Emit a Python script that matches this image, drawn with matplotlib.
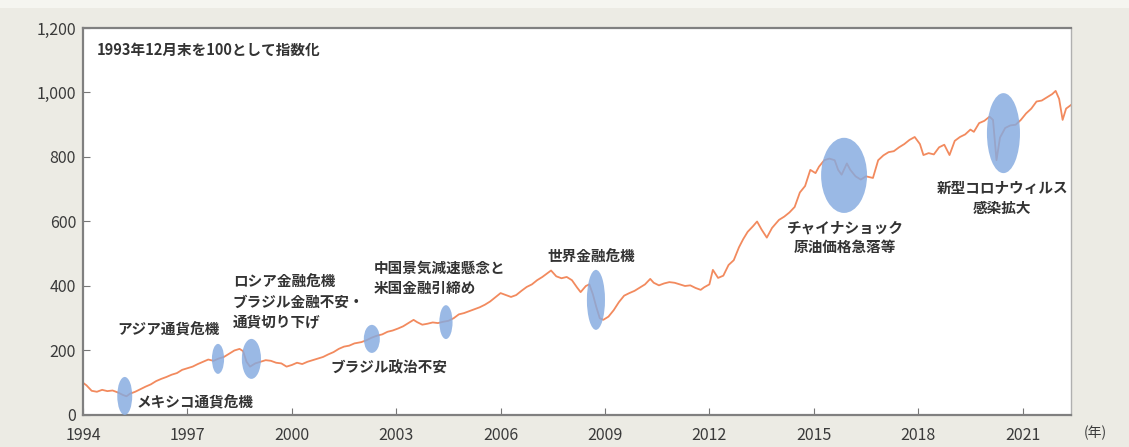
import matplotlib
matplotlib.use("Agg")
import matplotlib.pyplot as plt
from matplotlib.patches import Ellipse, Rectangle

plt.rcParams['font.family'] = ['Noto Sans CJK JP', 'DejaVu Sans']

# index, end of Dec 1993 = 100
dates = [1994.0, 1994.1, 1994.25, 1994.4, 1994.55, 1994.7, 1994.85, 1995.0, 1995.15, 1995.25,
         1995.35, 1995.5, 1995.65, 1995.8, 1995.95, 1996.1, 1996.25, 1996.4, 1996.55, 1996.7,
         1996.85, 1997.0, 1997.15, 1997.3, 1997.45, 1997.6, 1997.75, 1997.9, 1998.05, 1998.2,
         1998.35, 1998.5, 1998.6, 1998.7, 1998.8, 1998.95, 1999.1, 1999.25, 1999.4, 1999.55,
         1999.7, 1999.85, 2000.0, 2000.15, 2000.3, 2000.45, 2000.6, 2000.75, 2000.9, 2001.05,
         2001.2, 2001.35, 2001.5, 2001.65, 2001.8, 2002.0, 2002.15, 2002.3, 2002.45, 2002.6,
         2002.75, 2002.9, 2003.05, 2003.2, 2003.35, 2003.5, 2003.6, 2003.75, 2003.9, 2004.05,
         2004.2, 2004.35, 2004.5, 2004.65, 2004.8, 2004.95, 2005.1, 2005.25, 2005.4, 2005.55,
         2005.7, 2005.85, 2006.0, 2006.15, 2006.3, 2006.45, 2006.6, 2006.75, 2006.9, 2007.05,
         2007.2, 2007.35, 2007.45, 2007.6, 2007.75, 2007.9, 2008.05, 2008.2, 2008.3, 2008.45,
         2008.55, 2008.65, 2008.75, 2008.85, 2008.95, 2009.1, 2009.25, 2009.4, 2009.55, 2009.7,
         2009.85, 2010.0, 2010.15, 2010.3, 2010.4, 2010.55, 2010.7, 2010.85, 2011.0, 2011.15,
         2011.3, 2011.45, 2011.6, 2011.75, 2011.85, 2012.0, 2012.1, 2012.25, 2012.4, 2012.55,
         2012.7, 2012.85, 2012.97, 2013.1, 2013.25, 2013.37, 2013.5, 2013.65, 2013.8, 2014.0,
         2014.15, 2014.3, 2014.45, 2014.6, 2014.75, 2014.9, 2015.05, 2015.15, 2015.3, 2015.45,
         2015.6, 2015.7, 2015.8, 2015.95, 2016.05, 2016.2, 2016.35, 2016.5, 2016.7, 2016.85,
         2017.0, 2017.15, 2017.3, 2017.45, 2017.6, 2017.75, 2017.9, 2018.05, 2018.15, 2018.3,
         2018.45, 2018.6, 2018.75, 2018.9, 2019.05, 2019.2, 2019.35, 2019.5, 2019.6, 2019.75,
         2019.9, 2020.05, 2020.15, 2020.25, 2020.35, 2020.5, 2020.65, 2020.8, 2020.95, 2021.1,
         2021.25, 2021.4, 2021.55, 2021.7, 2021.85, 2021.95, 2022.05, 2022.15, 2022.25, 2022.4]
index = [100, 92, 75, 72, 78, 74, 76, 70, 62, 58,
         66, 72, 80, 88, 95, 105, 112, 118, 125, 130,
         140, 145, 150, 158, 165, 172, 168, 175, 180, 190,
         200, 205, 198, 165, 150, 160, 165, 170, 168, 162,
         160, 150, 155, 162, 158, 165, 170, 175, 180, 188,
         195, 205, 212, 215, 222, 226, 232, 240, 246, 250,
         258, 262, 268, 275, 285, 295, 288, 280, 283, 287,
         285, 289, 292, 300, 312, 316, 322, 328, 334, 342,
         352, 365, 378, 372, 366, 372, 385, 397, 405, 418,
         428, 440, 448, 430, 424, 428, 418, 395, 381, 400,
         405, 375, 335, 300, 295, 305, 325, 350, 370, 378,
         385, 395, 405, 422, 410, 402, 408, 412, 410, 405,
         400, 402, 394, 388, 396, 405, 450, 425, 432, 465,
         480, 520, 545, 568, 585, 600, 575, 550, 580, 605,
         615, 628, 645, 690, 710, 760, 750, 770, 790, 795,
         790, 760, 745, 780, 760, 740, 730, 740, 735, 790,
         805, 815, 818, 830, 840, 853, 862, 840, 806, 812,
         808, 830, 838, 806, 850, 862, 870, 885, 878, 905,
         912, 925, 915, 790, 860, 890, 898, 900, 915, 935,
         950, 972, 975, 985, 995, 1005, 980, 915, 950, 962]

# events: centre (year, value), size (years, value)
event_x = [1995.2, 1997.88, 1998.84, 2002.3, 2004.43, 2008.74, 2015.87, 2020.45]
event_y = [59, 174, 174, 236, 288, 357, 743, 874]
event_w = [0.43, 0.35, 0.55, 0.46, 0.38, 0.52, 1.32, 0.95]
event_h = [118, 93, 124, 87, 105, 186, 233, 248]

labels = [
    ("メキシコ通貨危機", 1995.55, 40, "left"),
    ("アジア通貨危機", 1994.98, 264, "left"),
    ("ロシア金融危機\nブラジル金融不安・\n通貨切り下げ", 1998.31, 350, "left"),
    ("ブラジル政治不安", 2001.10, 149, "left"),
    ("中国景気減速懸念と\n米国金融引締め", 2002.36, 425, "left"),
    ("世界金融危機", 2007.36, 490, "left"),
    ("チャイナショック\n原油価格急落等", 2015.90, 552, "center"),
    ("新型コロナウィルス\n感染拡大", 2020.41, 673, "center"),
]

bg = "#ecebe4"
fig = plt.figure(figsize=(11.29, 4.47), dpi=100, facecolor=bg)
# lighter strip along the very top
fig.add_artist(Rectangle((0, 1 - 8 / 447), 1, 8 / 447, transform=fig.transFigure,
                         facecolor="#f5f5f0", edgecolor="none"))
ax = fig.add_axes([0.0735, 0.0716, 0.8751, 0.8658])
ax.set_facecolor("white")

ax.plot(dates, index, color="#f28a5e", lw=1.3, zorder=2)

for x, y, w, h in zip(event_x, event_y, event_w, event_h):
    ax.add_patch(Ellipse((x, y), w, h, facecolor="#84aae0", edgecolor="none", alpha=0.82, zorder=3))

for txt, x, y, ha in labels:
    ax.text(x, y, txt, ha=ha, va="center", multialignment=ha, fontsize=10.5,
            color="#333333", linespacing=1.3, fontweight="bold", zorder=4)

ax.text(1994.4, 1132, "1993年12月末を100として指数化", ha="left", va="center",
        fontsize=10.5, color="#333333", fontweight="bold")

ax.set_xlim(1994, 2022.39)
ax.set_ylim(0, 1200)
ax.set_xticks(range(1994, 2022, 3))
ax.set_yticks(range(0, 1201, 200))
ax.set_yticklabels([f"{v:,}" for v in range(0, 1201, 200)])
ax.tick_params(direction="in", length=5, color="#777777", labelcolor="#3a3a3a",
               labelsize=11.5, pad=4)
ax.tick_params(axis="x", pad=9)
ax.tick_params(axis="y", pad=5)

for side in ["left", "bottom", "top"]:
    ax.spines[side].set_color("#808080")
    ax.spines[side].set_linewidth(1.6)
ax.spines["right"].set_color("#b0b0b0")
ax.spines["right"].set_linewidth(1.0)

fig.text(1095 / 1129, 1 - 433 / 447, "(年)", ha="center", va="center",
         fontsize=10, color="#3a3a3a")

fig.savefig("out.png", dpi=100, facecolor=bg)
